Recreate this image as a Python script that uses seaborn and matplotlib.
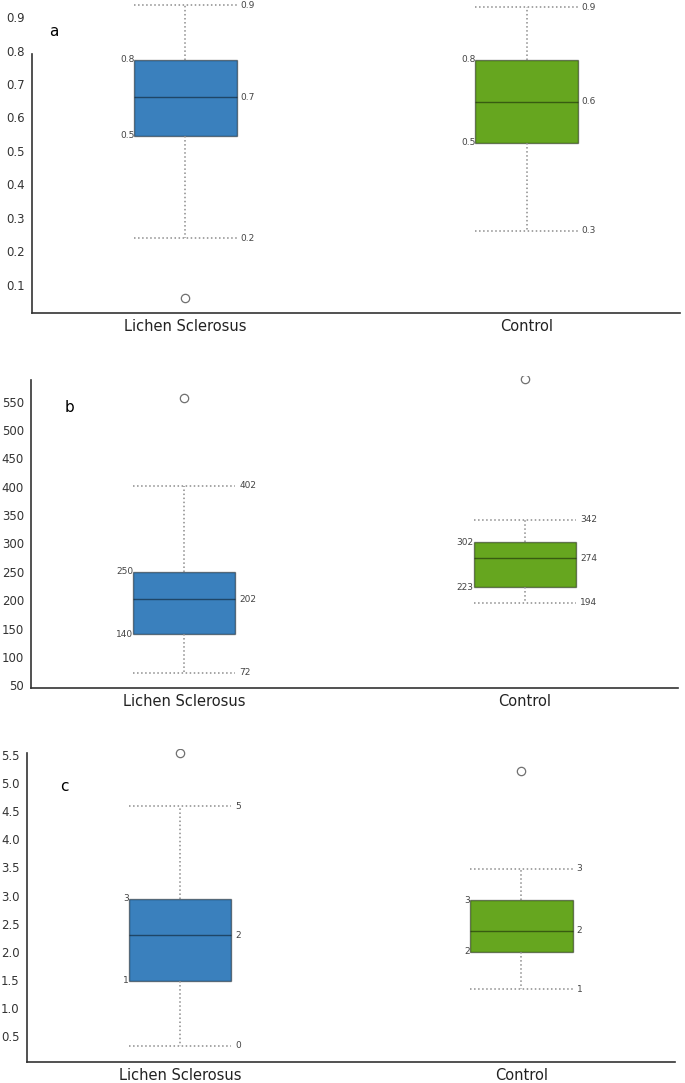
import numpy as np
import pandas as pd
import matplotlib
matplotlib.use("Agg")
import matplotlib.pyplot as plt
import seaborn as sns

# ==========================================
# DATA
# ==========================================

groups = ["Lichen Sclerosus", "Control"]
colors = ["#3a80bd", "#66a61f"]

# panel a
a_lo = [0.240, 0.262]
a_q1 = [0.545, 0.525]
a_med = [0.661, 0.647]
a_q3 = [0.772, 0.772]
a_hi = [0.936, 0.929]
a_out = [[0.061], []]
a_text = [["0.2", "0.5", "0.7", "0.8", "0.9"],
          ["0.3", "0.5", "0.6", "0.8", "0.9"]]
a_ticks = [0.1, 0.2, 0.3, 0.4, 0.5, 0.6, 0.7, 0.8, 0.9]
a_ticklabels = ["0.1", "0.2", "0.3", "0.4", "0.5", "0.6", "0.7", "0.8", "0.9"]

# panel b
b_lo = [72, 195]
b_q1 = [140, 223]
b_med = [202, 274]
b_q3 = [250, 302]
b_hi = [402, 342]
b_out = [[556], [590]]
b_text = [["72", "140", "202", "250", "402"],
          ["194", "223", "274", "302", "342"]]
b_ticks = [50, 100, 150, 200, 250, 300, 350, 400, 450, 500, 550]
b_ticklabels = [str(t) for t in b_ticks]

# panel c
c_lo = [0.33, 1.33]
c_q1 = [1.48, 2.00]
c_med = [2.29, 2.37]
c_q3 = [2.94, 2.92]
c_hi = [4.59, 3.48]
c_out = [[5.53], [5.215]]
c_text = [["0", "1", "2", "3", "5"],
          ["1", "2", "2", "3", "3"]]
c_ticks = [0.5, 1.0, 1.5, 2.0, 2.5, 3.0, 3.5, 4.0, 4.5, 5.0, 5.5]
c_ticklabels = ["0.5", "1.0", "1.5", "2.0", "2.5", "3.0", "3.5", "4.0", "4.5", "5.0", "5.5"]


def observations(lo, q1, med, q3, hi, out):
    # 13 values per group, so that the quartiles land on q1 / med / q3
    vals = [lo, lo, q1, q1, q1, med, med, med, q3, q3, q3, hi, hi]
    for o in out:
        if o < lo:
            vals[0] = o
        else:
            vals[-1] = o
    return vals


def make_frame(lo, q1, med, q3, hi, out):
    rows = []
    for i, g in enumerate(groups):
        for v in observations(lo[i], q1[i], med[i], q3[i], hi[i], out[i]):
            rows.append({"group": g, "value": v})
    return pd.DataFrame(rows)


# ==========================================
# PLOT
# ==========================================

sns.set_style("white")
plt.rcParams["font.family"] = ["DejaVu Sans"]

fig = plt.figure(figsize=(6.85, 10.83), dpi=100)

panels = [
    dict(pos=[0.0467, 0.711, 0.946, 0.289], ylim=(0.016, 0.951), spine_top=0.79,
         stats=(a_lo, a_q1, a_med, a_q3, a_hi, a_out), text=a_text,
         ticks=a_ticks, ticklabels=a_ticklabels,
         letter="a", letter_xy=(-0.40, 0.858)),
    dict(pos=[0.0453, 0.3647, 0.9445, 0.2879], ylim=(45, 595), spine_top=588,
         stats=(b_lo, b_q1, b_med, b_q3, b_hi, b_out), text=b_text,
         ticks=b_ticks, ticklabels=b_ticklabels,
         letter="b", letter_xy=(-0.352, 539)),
    dict(pos=[0.039, 0.0194, 0.9464, 0.2886], ylim=(0.037, 5.6), spine_top=5.535,
         stats=(c_lo, c_q1, c_med, c_q3, c_hi, c_out), text=c_text,
         ticks=c_ticks, ticklabels=c_ticklabels,
         letter="c", letter_xy=(-0.352, 4.936)),
]

box_w = 0.3
line_style = dict(color="#8c8c8c", linestyle=":", linewidth=1.1)

for p in panels:
    ax = fig.add_axes(p["pos"])
    lo, q1, med, q3, hi, out = p["stats"]
    df = make_frame(lo, q1, med, q3, hi, out)

    sns.boxplot(
        x="group",
        y="value",
        hue="group",
        data=df,
        order=groups,
        hue_order=groups,
        palette=colors,
        saturation=1,
        width=box_w,
        linecolor=(0, 0, 0, 0.45),
        linewidth=1.0,
        whiskerprops=line_style,
        capprops=line_style,
        capwidths=box_w,
        flierprops=dict(marker="o", markerfacecolor="white",
                        markeredgecolor="#707070", markersize=6,
                        markeredgewidth=0.9),
        legend=False,
        ax=ax,
    )

    for i in range(len(groups)):
        left = i - box_w / 2
        right = i + box_w / 2 + 0.012
        lab = p["text"][i]
        kw = dict(fontsize=6.5, color="#444444", va="center")
        ax.text(right, lo[i], lab[0], ha="left", **kw)
        ax.text(left, q1[i], lab[1], ha="right", **kw)
        ax.text(right, med[i], lab[2], ha="left", **kw)
        ax.text(left, q3[i], lab[3], ha="right", **kw)
        ax.text(right, hi[i], lab[4], ha="left", **kw)

    lx, ly = p["letter_xy"]
    ax.text(lx, ly, p["letter"], fontsize=11, color="black",
            ha="left", va="center")

    ax.set_xlim(-0.45, 1.45)
    ax.set_ylim(*p["ylim"])
    ax.set_yticks(p["ticks"])
    ax.set_yticklabels(p["ticklabels"])
    ax.set_xlabel("")
    ax.set_ylabel("")
    ax.tick_params(axis="y", length=0, pad=5, labelsize=8.5, labelcolor="#333333")
    ax.tick_params(axis="x", length=0, pad=4, labelsize=10.5, labelcolor="#222222")

    sns.despine(ax=ax)
    for s in ["left", "bottom"]:
        ax.spines[s].set_color("#333333")
        ax.spines[s].set_linewidth(1.2)
    ax.spines["left"].set_bounds(p["ylim"][0], p["spine_top"])

fig.savefig("out.png", dpi=100)
